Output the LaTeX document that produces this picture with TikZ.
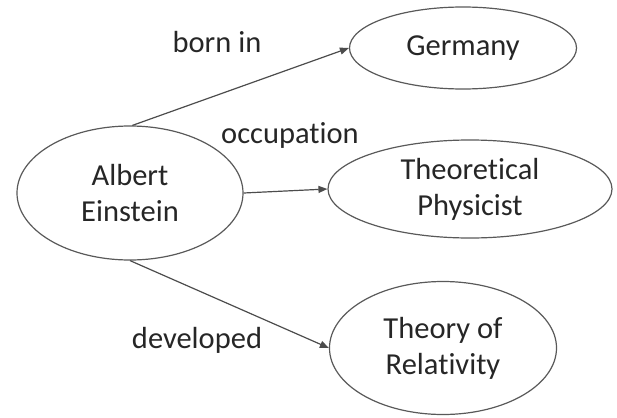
\documentclass[tikz,border=0pt]{standalone}
\usepackage{fontspec}
\setmainfont{Carlito}[Ligatures=NoCommon]
\usetikzlibrary{shapes.geometric,arrows.meta}

\tikzset{
  concept/.style={ellipse, draw=black!65, line width=1.2pt, inner sep=0pt,
    align=center, text=black!85, font=\fontsize{30.5}{36}\selectfont},
  rel/.style={draw=black!70, line width=1.2pt, -{Triangle[length=9pt,width=7pt]}},
  lbl/.style={text=black!85, font=\fontsize{30.5}{36}\selectfont}
}

\begin{document}
\begin{tikzpicture}[x=1pt,y=-1pt]
 \useasboundingbox (0,0) rectangle (617,417);
    % concepts
    \node[concept, minimum width=226pt, minimum height=134pt] (einstein) at (130,193) {Albert\\Einstein};
    \node[concept, minimum width=227pt, minimum height=82pt] (germany) at (463,48) {Germany};
    \node[concept, minimum width=284pt, minimum height=98pt] (physicist) at (470,189) {Theoretical\\Physicist};
    \node[concept, minimum width=227pt, minimum height=133pt] (relativity) at (443,348) {Theory of\\Relativity};
    % relations
    \draw[rel] (einstein.88) -- (germany.west);
    \draw[rel] (einstein.east) -- (physicist.west);
    \draw[rel] (einstein.south) -- (relativity.west);
    \node[lbl] (bornin) at (217,42) {born in};
    \node[lbl] (occupation) at (290,135) {occupation};
    \node[lbl] (developed) at (197,340) {developed};
\end{tikzpicture}
\end{document}
